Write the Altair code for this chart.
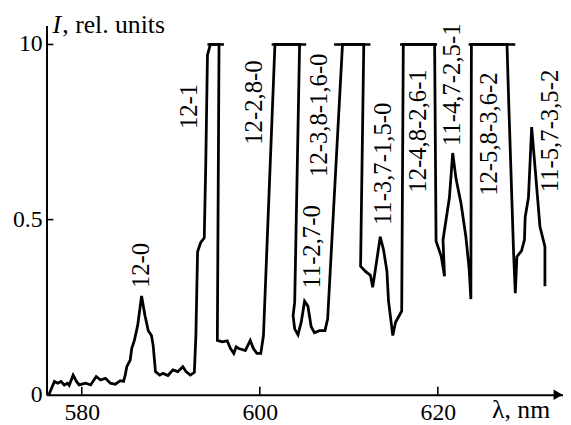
import altair as alt
import pandas as pd

# ---- spectrum trace (wavelength nm, relative intensity), drawing order preserved ----
wavelength = [
    576.30, 576.93, 577.29, 577.67, 578.04, 578.40, 578.59, 579.03, 579.40, 579.70,
    580.44, 581.00, 581.62, 582.11, 582.66, 583.22, 583.77, 584.33, 584.69, 584.88,
    585.06, 585.44, 585.61, 585.91, 586.28, 586.72, 587.10, 587.47, 587.83, 588.02,
    588.28, 588.76, 589.13, 589.68, 590.24, 590.79, 591.35, 591.71, 592.20, 592.65,
    592.82, 593.01, 593.35, 593.76, 593.93, 594.12, 594.45,
    595.42, 595.23, 595.79, 596.34, 596.71, 597.08, 597.34, 597.64, 598.00, 598.37,
    598.93, 599.28, 599.67, 600.11, 600.41, 601.70,
    604.47, 603.92, 603.74, 603.92, 604.29, 604.66, 605.03, 605.40, 605.77, 606.14,
    606.69, 607.32, 607.62, 609.29,
    611.68, 611.32, 611.87, 612.43, 612.68, 612.90, 613.53, 613.90, 614.28, 614.46,
    614.94, 615.25, 615.94, 616.12,
    619.64, 619.80, 620.38, 620.75, 620.58, 621.30, 621.67, 622.04, 622.60, 623.15,
    623.52, 623.71, 623.77,
    627.77, 627.96, 628.51, 628.70, 628.88, 629.40, 629.73, 629.81, 630.18, 630.54,
    630.92, 631.47, 632.03, 632.03,
]
intensity = [
    0.000, 0.038, 0.033, 0.038, 0.028, 0.033, 0.027, 0.056, 0.038, 0.028,
    0.033, 0.028, 0.052, 0.042, 0.047, 0.033, 0.030, 0.040, 0.038, 0.056,
    0.080, 0.099, 0.132, 0.155, 0.198, 0.282, 0.226, 0.183, 0.169, 0.141,
    0.066, 0.056, 0.061, 0.055, 0.071, 0.066, 0.080, 0.066, 0.056, 0.064,
    0.169, 0.408, 0.434, 0.448, 0.659, 0.970, 1.000,
    1.000, 0.155, 0.151, 0.154, 0.132, 0.118, 0.137, 0.132, 0.129, 0.126,
    0.155, 0.132, 0.118, 0.118, 0.169, 1.000,
    1.000, 0.264, 0.226, 0.188, 0.171, 0.208, 0.267, 0.253, 0.194, 0.177,
    0.183, 0.183, 0.216, 1.000,
    1.000, 0.367, 0.352, 0.341, 0.307, 0.343, 0.451, 0.414, 0.353, 0.267,
    0.169, 0.207, 0.239, 1.000,
    1.000, 0.439, 0.395, 0.338, 0.442, 0.563, 0.690, 0.617, 0.547, 0.451,
    0.358, 0.273, 1.000,
    1.000, 0.837, 0.405, 0.290, 0.394, 0.411, 0.442, 0.507, 0.563, 0.764,
    0.649, 0.480, 0.423, 0.310,
]

# saturated (clipped) tops at I = 1
cap_start = [594.12, 601.33, 608.35, 615.75, 623.46]
cap_end = [595.97, 605.21, 612.43, 619.91, 628.70]

# band labels
band_labels = ["12-0", "12-1", "12-2,8-0", "12-3,8-1,6-0", "11-2,7-0",
               "11-3,7-1,5-0", "12-4,8-2,6-1", "11-4,7-2,5-1", "12-5,8-3,6-2",
               "11-5,7-3,5-2"]
label_nm = [586.69, 592.01, 599.34, 606.66, 605.88, 613.87, 617.75, 621.58, 625.74, 632.60]
label_I = [0.369, 0.823, 0.834, 0.798, 0.422, 0.659, 0.753, 0.885, 0.744, 0.753]

x_ticks = [580, 600, 620]
y_ticks = [0, 0.5, 1.0]
y_tick_text = ["0", "0.5", "10"]
y_tick_marks = [0.5, 1.0]

X_DOMAIN = [576.04, 634.06]
Y_DOMAIN = [0, 1.0544]
W, H = 523, 374
FONT = "Liberation Serif"

spec = pd.DataFrame({"nm": wavelength, "I": intensity, "idx": list(range(len(wavelength)))})
caps = pd.DataFrame({"a": cap_start, "b": cap_end, "I": [1.0] * len(cap_start)})
labels = pd.DataFrame({"lab": band_labels, "nm": label_nm, "I": label_I})

xs = alt.Scale(domain=X_DOMAIN, nice=False, zero=False)
ys = alt.Scale(domain=Y_DOMAIN, nice=False, zero=False)

xaxis = alt.Axis(values=x_ticks, ticks=False, grid=False, title=None,
                 labelFont=FONT, labelFontSize=24,
                 labelPadding=6, domainColor="black", domainWidth=2)
yaxis = alt.Axis(values=[], ticks=False, grid=False, title=None,
                 domainColor="black", domainWidth=2)

line = alt.Chart(spec).mark_line(color="black", strokeWidth=2.8).encode(
    x=alt.X("nm:Q", scale=xs, axis=xaxis),
    y=alt.Y("I:Q", scale=ys, axis=yaxis),
    order=alt.Order("idx:Q"),
)

cap_rules = alt.Chart(caps).mark_rule(color="black", strokeWidth=2.6).encode(
    x=alt.X("a:Q", scale=xs), x2="b:Q", y=alt.Y("I:Q", scale=ys)
)

xtick_df = pd.DataFrame({"v": x_ticks})
xtick_rules = alt.Chart(xtick_df).mark_rule(color="black", strokeWidth=1.6).encode(
    x=alt.X("v:Q", scale=xs), y=alt.value(H), y2=alt.value(H - 8)
)
ytick_df = pd.DataFrame({"v": y_tick_marks})
ytick_rules = alt.Chart(ytick_df).mark_rule(color="black", strokeWidth=1.6).encode(
    y=alt.Y("v:Q", scale=ys), x=alt.value(0), x2=alt.value(7)
)

ylab_df = pd.DataFrame({"v": y_ticks, "s": y_tick_text})
ylabels = alt.Chart(ylab_df).mark_text(font=FONT, fontSize=24, align="right",
                                       color="black", dx=-4).encode(
    y=alt.Y("v:Q", scale=ys), x=alt.value(0), text="s:N"
)

arrow = alt.Chart(pd.DataFrame({"a": [0]})).mark_point(
    shape="triangle-right", filled=True, color="black", opacity=1, size=110
).encode(x=alt.value(W - 5), y=alt.value(H))

band_text = alt.Chart(labels).mark_text(angle=270, font=FONT, fontSize=25,
                                        color="black").encode(
    x=alt.X("nm:Q", scale=xs), y=alt.Y("I:Q", scale=ys), text="lab:N"
)

title_I = alt.Chart(pd.DataFrame({"t": ["I"]})).mark_text(
    font=FONT, fontSize=26, fontStyle="italic", align="left", baseline="alphabetic",
    color="black").encode(x=alt.value(6), y=alt.value(8), text="t:N")
title_rest = alt.Chart(pd.DataFrame({"t": [", rel. units"]})).mark_text(
    font=FONT, fontSize=26, align="left", baseline="alphabetic",
    color="black").encode(x=alt.value(16), y=alt.value(8), text="t:N")
title_x = alt.Chart(pd.DataFrame({"t": ["λ, nm"]})).mark_text(
    font=FONT, fontSize=26, align="right", baseline="alphabetic",
    color="black").encode(x=alt.value(510), y=alt.value(H + 24), text="t:N")

chart = alt.layer(
    line, cap_rules, xtick_rules, ytick_rules, ylabels, arrow, band_text,
    title_I, title_rest, title_x
).properties(
    width=W, height=H,
    autosize=alt.AutoSizeParams(type="none"),
    padding={"left": 39, "top": 15, "right": 0, "bottom": 27},
    view=alt.ViewBackground(stroke="white"),
)

chart.save("out.html", embed_options={"renderer": "svg", "actions": False})
